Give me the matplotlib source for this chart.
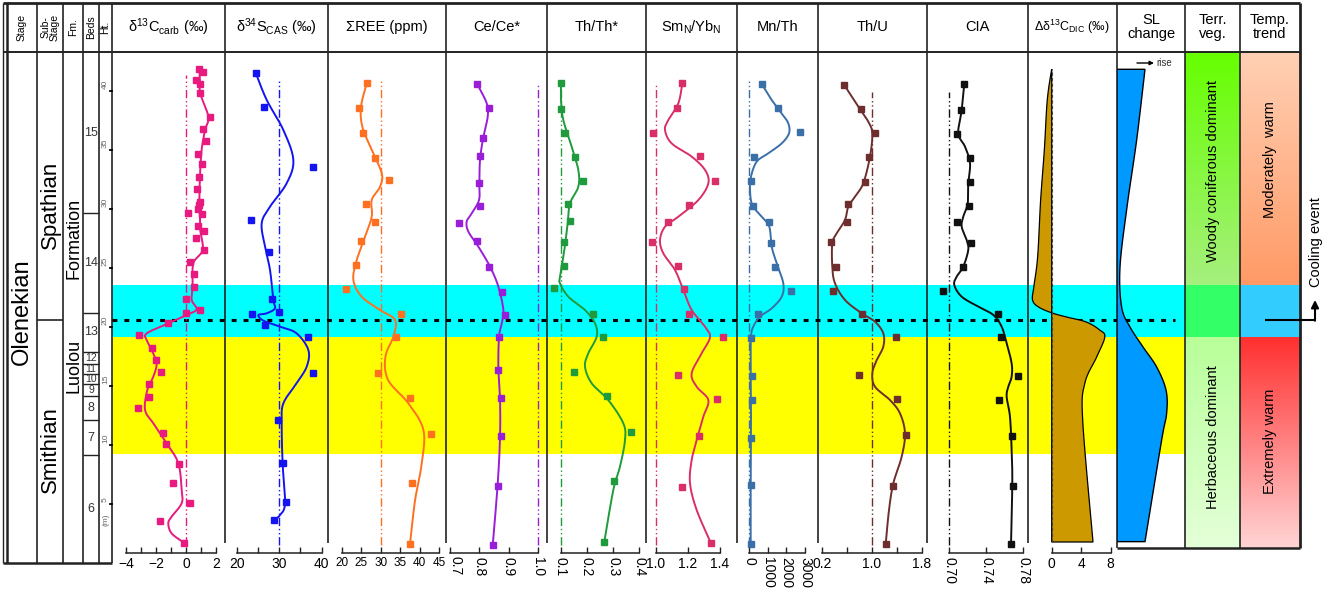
import numpy as np
import matplotlib
matplotlib.use("Agg")
import matplotlib.pyplot as plt
from matplotlib.colors import to_rgb
from matplotlib.patches import Rectangle

plt.rcParams["font.family"] = ["Liberation Sans", "DejaVu Sans"]
plt.rcParams["mathtext.fontset"] = "custom"
plt.rcParams["mathtext.rm"] = "Liberation Sans"
plt.rcParams["mathtext.it"] = "Liberation Sans:italic"
plt.rcParams["mathtext.bf"] = "Liberation Sans:bold"

# ---------------- data (heights in m) ----------------
cyan_band = (19.13, 23.56)
yellow_band = (9.24, 19.13)
event_h = 20.6

height_ticks = [5, 10, 15, 20, 25, 30, 35, 40]
beds = ["15", "14", "13", "12", "11", "10", "9", "8", "7", "6"]
bed_tops = [43.3, 29.66, 21.19, 17.88, 16.86, 16.02, 15.17, 14.15, 12.12, 9.15]

# d13C carb
c13_h = [41.9, 41.6, 40.9, 40.6, 39.8, 37.8, 36.8, 35.8, 34.7, 33.8, 32.7, 31.7, 30.6, 30.3,
         30.0, 29.7, 29.6, 28.6, 28.1, 27.5, 26.5, 25.5, 24.5, 23.4, 22.4, 21.4, 21.2, 20.3,
         19.3, 18.2, 17.2, 16.2, 15.2, 14.1, 13.1, 11.0, 10.1, 8.4, 6.8, 5.1, 3.6, 1.7]
c13_v = [0.89, 1.11, 0.67, 0.93, 0.95, 1.60, 1.16, 1.33, 0.82, 1.04, 0.89, 0.76, 0.93, 0.89,
         0.82, 0.16, 1.04, 0.82, 1.20, 0.67, 1.20, 0.27, 0.53, 0.53, 0.00, 0.95, 0.00, -1.18,
         -3.11, -2.29, -2.00, -1.69, -2.44, -2.44, -3.18, -1.51, -1.36, -0.44, -0.84, 0.27, -1.73, -0.13]
c13_ch = [41.92, 40.93, 39.8, 37.82, 36.69, 35.0, 32.74, 30.48, 29.35, 28.22, 26.53, 25.4, 23.42,
          22.29, 21.5, 21.02, 20.31, 19.46, 18.9, 18.05, 16.92, 15.79, 14.66, 12.97, 11.84, 10.14,
          8.45, 6.19, 5.06, 3.93, 3.36, 2.51, 1.72]
c13_cv = [0.89, 0.93, 0.95, 1.49, 1.27, 1.04, 0.93, 0.89, 0.93, 0.95, 1.11, 0.49, 0.44, 0.38,
          0.71, 0.04, -1.18, -2.62, -2.62, -2.29, -1.96, -2.18, -2.58, -2.73, -2.18, -1.29,
          -0.51, -0.29, -0.29, -0.96, -1.18, -0.96, -0.13]

# d34S CAS
s34_h = [41.55, 38.62, 33.59, 29.07, 26.38, 22.35, 21.3, 21.1, 20.17, 19.19, 16.13, 12.11, 8.45, 5.2, 3.65]
s34_v = [24.47, 26.42, 37.88, 23.29, 27.6, 28.38, 29.95, 23.53, 26.66, 36.86, 37.88, 29.65, 30.98, 31.6, 28.85]
s34_ch = [41.55, 39.24, 36.69, 34.15, 32.18, 30.2, 28.79, 26.81, 24.83, 22.29, 21.58, 21.16, 21.02,
          20.54, 20.03, 19.46, 18.05, 16.64, 15.23, 13.53, 11.84, 8.45, 5.06, 4.07, 3.65]
s34_cv = [24.47, 27.06, 30.98, 33.33, 31.76, 27.84, 25.88, 26.66, 27.84, 28.62, 29.0, 27.06, 25.1,
          26.27, 30.2, 34.1, 36.86, 36.47, 34.1, 30.98, 30.59, 30.8, 31.37, 30.2, 28.85]

# sum REE
ree_h = [40.65, 38.53, 36.41, 34.35, 32.46, 30.4, 28.93, 27.29, 25.25, 23.22, 21.07, 19.13, 16.1, 14.01, 10.93, 6.75, 1.6]
ree_v = [26.41, 24.52, 25.55, 28.54, 32.21, 26.23, 28.54, 24.95, 23.67, 21.1, 35.2, 33.85, 29.39, 37.51, 42.82, 38.1, 37.51]
ree_ch = [40.65, 38.67, 36.97, 35.0, 33.02, 31.89, 30.76, 29.35, 27.66, 25.68, 23.98, 22.57, 21.44,
          20.59, 19.19, 17.49, 15.51, 13.53, 11.27, 8.45, 5.34, 1.67]
ree_cv = [26.41, 24.95, 25.29, 27.69, 30.26, 29.82, 27.69, 27.69, 25.97, 23.85, 22.99, 25.12, 29.82,
          33.67, 33.24, 31.2, 31.88, 37.08, 40.93, 40.51, 38.8, 37.51]

# Ce/Ce*
ce_h = [40.56, 38.53, 36.05, 34.49, 32.18, 30.28, 28.79, 27.29, 25.11, 22.99, 21.02, 19.13, 16.38, 13.95, 10.8, 6.56, 1.53]
ce_v = [0.7929, 0.8337, 0.8133, 0.802, 0.7986, 0.8031, 0.7306, 0.7929, 0.8327, 0.8757, 0.8871,
        0.8667, 0.8643, 0.8724, 0.8724, 0.8622, 0.8452]
ce_ch = [40.56, 38.96, 37.82, 36.13, 34.15, 32.18, 30.76, 29.63, 28.93, 28.08, 26.81, 25.11, 23.42,
         21.44, 20.31, 19.19, 16.64, 13.81, 10.71, 6.75, 1.53]
ce_cv = [0.7929, 0.8247, 0.8281, 0.8133, 0.802, 0.7998, 0.7986, 0.7737, 0.7567, 0.7624, 0.7963,
         0.8361, 0.8643, 0.8814, 0.8757, 0.8667, 0.8643, 0.87, 0.87, 0.8622, 0.8452]

# Th/Th*
th_h = [40.71, 38.45, 36.41, 34.38, 32.4, 30.4, 28.98, 27.23, 25.2, 23.28, 21.07, 19.13, 16.16, 14.15, 11.13, 6.95, 1.78]
th_v = [0.1011, 0.1, 0.1164, 0.1546, 0.1839, 0.1267, 0.1355, 0.1126, 0.1139, 0.0756, 0.2244,
        0.2603, 0.1519, 0.2756, 0.3683, 0.3034, 0.2664]
th_ch = [40.71, 39.24, 37.54, 35.28, 33.31, 31.89, 30.48, 28.79, 26.53, 24.27, 23.7, 22.57, 21.44,
         20.31, 19.19, 17.77, 16.64, 15.23, 13.81, 11.84, 10.42, 8.17, 6.19, 1.78]
th_cv = [0.1011, 0.1011, 0.11, 0.142, 0.1672, 0.1672, 0.1355, 0.1267, 0.1139, 0.0973, 0.0973, 0.129,
         0.1927, 0.2309, 0.2374, 0.2053, 0.1927, 0.2183, 0.2817, 0.3389, 0.3454, 0.3263, 0.3008, 0.2664]

# SmN/YbN
sm_h = [40.65, 38.53, 36.47, 34.49, 32.4, 30.34, 28.93, 27.23, 25.17, 23.19, 21.1, 19.13, 15.93, 13.87, 10.8, 6.47, 1.67]
sm_v = [1.1646, 1.1292, 0.9833, 1.275, 1.3688, 1.2063, 1.0771, 0.9729, 1.1396, 1.175, 1.2083,
        1.4208, 1.1354, 1.3792, 1.2688, 1.1646, 1.3438]
sm_ch = [40.65, 38.96, 37.54, 36.69, 35.56, 34.44, 33.31, 32.18, 30.76, 29.35, 28.5, 27.37, 26.24,
         24.83, 23.14, 21.44, 20.03, 19.13, 17.77, 16.07, 14.94, 13.81, 12.4, 10.42, 8.73, 6.75, 4.49, 1.67]
sm_cv = [1.1646, 1.1396, 1.0771, 1.0563, 1.0979, 1.2229, 1.3063, 1.3271, 1.2646, 1.1396, 1.0563,
         1.025, 1.0458, 1.1188, 1.1708, 1.2229, 1.3063, 1.3375, 1.2854, 1.2229, 1.2542, 1.3271,
         1.2958, 1.2542, 1.2229, 1.2125, 1.2542, 1.3438]

# Mn/Th
mn_h = [40.59, 38.53, 36.55, 34.38, 32.38, 30.28, 28.87, 27.09, 25.11, 23.08, 21.07, 19.1, 15.85, 13.81, 10.63, 6.61, 1.6]
mn_v = [667, 1529, 2730, 269, 75, 215, 1077, 1152, 1384, 2229, 452, 75, 129, 129, 91, 91, 75]
mn_ch = [40.59, 39.24, 38.11, 37.26, 36.41, 35.56, 34.72, 34.01, 32.74, 31.61, 30.34, 29.35, 28.5,
         26.81, 25.4, 23.7, 22.57, 21.58, 20.88, 20.03, 19.13, 16.64, 12.4, 6.75, 1.6]
mn_cv = [667, 1206, 1745, 2100, 2138, 1745, 1023, 398, 91, 38, 162, 667, 1077, 1206, 1475, 1831,
         1745, 1206, 576, 215, 91, 75, 91, 75, 75]

# Th/U
tu_h = [40.5, 38.45, 36.47, 34.38, 32.32, 30.43, 28.93, 27.23, 25.11, 23.08, 21.1, 19.13, 15.93, 13.87, 10.85, 6.56, 1.6]
tu_v = [0.5616, 0.824, 1.0528, 0.9616, 0.8928, 0.6256, 0.6096, 0.3488, 0.424, 0.376, 0.84, 1.384,
        0.8016, 1.4096, 1.544, 1.3456, 1.224]
tu_ch = [40.5, 38.67, 37.4, 36.41, 34.44, 32.18, 31.05, 30.2, 29.07, 27.94, 27.09, 25.11, 23.7, 22.29,
         21.16, 20.45, 19.46, 18.33, 17.2, 16.07, 14.94, 13.81, 12.68, 10.99, 9.01, 6.75, 4.49, 1.6]
tu_cv = [0.5616, 0.7856, 0.9456, 1.0096, 0.9728, 0.8656, 0.7328, 0.6256, 0.5728, 0.44, 0.3696, 0.3696,
         0.4128, 0.5728, 0.84, 1.0528, 1.1856, 1.1856, 1.08, 1.0096, 1.0528, 1.2928, 1.4528, 1.5328,
         1.48, 1.3456, 1.2768, 1.224]

# CIA
cia_h = [40.59, 38.39, 36.36, 34.3, 32.27, 30.28, 28.87, 27.09, 25.11, 23.08, 21.07, 19.13, 15.88, 13.81, 10.76, 6.56, 1.6]
cia_v = [0.7162, 0.7126, 0.708, 0.7224, 0.7224, 0.7216, 0.7087, 0.7231, 0.7151, 0.6935, 0.753,
         0.7559, 0.7746, 0.7537, 0.7674, 0.7685, 0.7667]
cia_ch = [40.59, 38.39, 36.41, 35.28, 33.87, 32.18, 30.48, 29.35, 28.5, 27.37, 26.53, 25.11, 24.27,
          23.56, 22.57, 21.72, 21.02, 20.03, 18.62, 16.92, 15.79, 14.94, 14.1, 12.4, 9.58, 6.75, 1.6]
cia_cv = [0.7162, 0.7134, 0.7097, 0.717, 0.7224, 0.7205, 0.7199, 0.7151, 0.7134, 0.7188, 0.7205,
          0.7151, 0.708, 0.7054, 0.7134, 0.7314, 0.7476, 0.7566, 0.762, 0.7674, 0.7674, 0.7638,
          0.762, 0.7656, 0.7674, 0.7681, 0.7667]

# delta d13C DIC
dic_h = [41.86, 39.24, 35.0, 30.76, 26.0, 23.5, 22.3, 21.7, 21.2, 20.85, 20.42, 19.75, 19.15, 17.46, 15.25, 12.12, 1.78]
dic_v = [0.0, -0.6, -1.0, -1.5, -1.9, -2.4, -2.6, -1.8, 0.0, 2.0, 4.7, 6.5, 7.2, 6.1, 4.5, 4.2, 5.6]

# relative sea level
sl_h = [41.84, 35.85, 30.17, 25.08, 21.69, 20.0, 18.31, 16.61, 14.66, 12.71, 10.42, 1.81]
sl_v = [0.56, 0.393, 0.2, 0.06, 0.093, 0.26, 0.52, 0.793, 0.98, 0.993, 0.893, 0.56]

# ---------------- layout ----------------
W, H = 1333, 591
Y0, PPM = 563.0, 11.8          # pixel row of 0 m, pixels per metre
TOP, HDR, AXB = 3, 52, 553


def yp(h):
    return Y0 - PPM * np.asarray(h, float)


def hm(y):
    return (Y0 - y) / PPM


def spline(h, v, n=16):
    # Catmull-Rom curve through the nodes
    p = np.column_stack([v, h]).astype(float)
    p = np.vstack([p[0], p, p[-1]])
    t = np.linspace(0, 1, n, endpoint=False)[:, None]
    segs = []
    for i in range(1, len(p) - 2):
        p0, p1, p2, p3 = p[i - 1], p[i], p[i + 1], p[i + 2]
        segs.append(0.5 * (2 * p1 + (p2 - p0) * t + (2 * p0 - 5 * p1 + 4 * p2 - p3) * t ** 2
                           + (-p0 + 3 * p1 - 3 * p2 + p3) * t ** 3))
    segs.append(p[-2][None])
    s = np.vstack(segs)
    return s[:, 0], s[:, 1]


panels = [
    dict(x0=112, x1=225, anchor=((-4, 126), (2, 216)), color="#e8197f", h=c13_h, v=c13_v, ch=c13_ch, cv=c13_cv,
         ticks=[-4, -2, 0, 2], labels=["\u22124", "\u22122", "0", "2"], minor=[-3, -1, 1], rot=0, ref=0, ref_top=41.35,
         fs=10, title="\u03b4$^{13}$C$_{\\rm carb}$ (\u2030)"),
    dict(x0=225, x1=328, anchor=((20, 236.7), (40, 321.7)), color="#1414f0", h=s34_h, v=s34_v, ch=s34_ch, cv=s34_cv,
         ticks=[20, 25, 30, 35, 40], labels=["20", "", "30", "", "40"], minor=[], rot=0, ref=30, ref_top=40.9,
         fs=10, title="\u03b4$^{34}$S$_{\\rm CAS}$ (\u2030)"),
    dict(x0=328, x1=446, anchor=((20, 341.7), (45, 439.3)), color="#ff7020", h=ree_h, v=ree_v, ch=ree_ch, cv=ree_cv,
         ticks=[20, 25, 30, 35, 40, 45], labels=["20", "25", "30", "35", "40", "45"], minor=[], rot=0, ref=30,
         ref_top=40.9, fs=8.5, title="\u03a3REE (ppm)"),
    dict(x0=446, x1=547, anchor=((0.7, 450), (1.0, 538.3)), color="#9a1ed8", h=ce_h, v=ce_v, ch=ce_ch, cv=ce_cv,
         ticks=[0.7, 0.8, 0.9, 1.0], labels=["", "0.8", "0.9", "1.0"], minor=[], rot=270, ref=1.0,
         ref_top=40.65, fs=10, title="Ce/Ce*"),
    dict(x0=547, x1=646, anchor=((0.1, 560.7), (0.4, 639.3)), color="#1f9a3c", h=th_h, v=th_v, ch=th_ch, cv=th_cv,
         ticks=[0.1, 0.2, 0.3, 0.4], labels=["0.1", "0.2", "0.3", "0.4"], minor=[], rot=270, ref=0.1,
         ref_top=40.65, fs=10, title="Th/Th*"),
    dict(x0=646, x1=737, anchor=((1.0, 656), (1.4, 720)), color="#d92e68", h=sm_h, v=sm_v, ch=sm_ch, cv=sm_cv,
         ticks=[1.0, 1.2, 1.4], labels=["1.0", "1.2", "1.4"], minor=[], rot=0, ref=1.0, ref_top=40.65,
         fs=10, title="Sm$_{\\rm N}$/Yb$_{\\rm N}$"),
    dict(x0=737, x1=818, anchor=((0, 749.3), (3000, 805)), color="#3a6fa8", h=mn_h, v=mn_v, ch=mn_ch, cv=mn_cv,
         ticks=[0, 1000, 2000, 3000], labels=["0", "1000", "2000", "3000"], minor=[], rot=270, ref=0,
         ref_top=40.9, fs=10, title="Mn/Th"),
    dict(x0=818, x1=927, anchor=((0.2, 821.7), (1.8, 921.7)), color="#6e2e2e", h=tu_h, v=tu_v, ch=tu_ch, cv=tu_cv,
         ticks=[0.2, 0.6, 1.0, 1.4, 1.8], labels=["0.2", "", "1.0", "", "1.8"], minor=[], rot=0, ref=1.0,
         ref_top=39.94, fs=10, title="Th/U"),
    dict(x0=927, x1=1028, anchor=((0.70, 949.3), (0.78, 1023.3)), color="#111111", h=cia_h, v=cia_v, ch=cia_ch,
         cv=cia_cv, ticks=[0.70, 0.74, 0.78], labels=["0.70", "0.74", "0.78"], minor=[], rot=270, ref=0.70,
         ref_top=39.94, fs=10, title="CIA"),
]

fig = plt.figure(figsize=(W / 100, H / 100), dpi=100)
bg = fig.add_axes([0, 0, 1, 1])
bg.axis("off")


def vgrad(x0, x1, y0, y1, c0, c1):
    t = np.linspace(0, 1, 100)[:, None, None]
    img = np.array(to_rgb(c0)) * (1 - t) + np.array(to_rgb(c1)) * t
    bg.imshow(img, extent=(x0, x1, y1, y0), aspect="auto", interpolation="bilinear", zorder=1)


def rect(x0, x1, y0, y1, c):
    bg.add_patch(Rectangle((x0, y0), x1 - x0, y1 - y0, fc=c, lw=0, zorder=1))


def vline(x, y0, y1, lw=1.2):
    bg.plot([x, x], [y0, y1], color="#222222", lw=lw, zorder=3, solid_capstyle="butt")


def hline(y, x0, x1, lw=1.2):
    bg.plot([x0, x1], [y, y], color="#222222", lw=lw, zorder=3, solid_capstyle="butt")


yc0, yc1 = yp(cyan_band[1]), yp(cyan_band[0])
yy0, yy1 = yp(yellow_band[1]), yp(yellow_band[0])
rect(112, 1185, yc0, yc1, "#00ffff")
rect(112, 1185, yy0, yy1, "#ffff00")

# vegetation and temperature columns
vgrad(1185, 1240, HDR, yc0, "#66ff00", "#a6f07e")
rect(1185, 1240, yc0, yc1, "#33ff66")
vgrad(1185, 1240, yc1, 548, "#b8ff99", "#e4ffd8")
vgrad(1240, 1300, HDR, yc0, "#ffd0b4", "#ff9a66")
rect(1240, 1300, yc0, yc1, "#33ccff")
vgrad(1240, 1300, yc1, 548, "#ff3030", "#ffd4d4")

# frame
hline(TOP, 3, 1300, 2)
hline(HDR, 3, 1300, 1.4)
vline(3, TOP, 563, 1)
vline(7, TOP, 563, 1.8)
for x in [37, 63, 83, 99, 112]:
    vline(x, TOP, 563)
hline(563, 3, 112, 1.8)
for p in panels:
    vline(p["x1"], TOP, 543)
for x in [1117, 1185, 1240]:
    vline(x, TOP, 548)
vline(1300, TOP, 548, 2)
hline(548, 1117, 1300, 1.8)

# event line
bg.plot([112, 1175], [yp(event_h)] * 2, color="k", lw=2.2, ls=(0, (1.6, 2.3)), zorder=4)

# left stratigraphy
hline(yp(event_h), 37, 63)
for b in bed_tops[1:]:
    hline(yp(b), 83, 99, 1)
bed_bases = bed_tops[1:] + [0.0]
for name, t, b in zip(beds, bed_tops, bed_bases):
    fs = 9 if name in ("15", "14", "13", "8", "7", "6") else 7.5
    bg.text(91, (yp(t) + yp(b)) / 2, name, ha="center", va="center", fontsize=fs, color="#333", zorder=5)
for h in height_ticks:
    bg.plot([109.5, 112], [yp(h)] * 2, color="k", lw=1.3, zorder=5)
    bg.text(105.5, yp(h) - 2, str(h), rotation=90, ha="center", va="bottom", fontsize=6, color="#666", zorder=5)
bg.text(105.5, 520, "(m)", rotation=90, ha="center", va="center", fontsize=6, color="#666")

bg.text(22, 312, "Olenekian", rotation=90, ha="center", va="center", fontsize=17)
bg.text(50, 205, "Spathian", rotation=90, ha="center", va="center", fontsize=16)
bg.text(50, 450, "Smithian", rotation=90, ha="center", va="center", fontsize=16)
bg.text(74, 238, "Formation", rotation=90, ha="center", va="center", fontsize=13)
bg.text(74, 366, "Luolou", rotation=90, ha="center", va="center", fontsize=13)

for x, s in [(22, "Stage"), (50, "Sub-\nStage"), (73, "Fm."), (91, "Beds"), (105.5, "Ht.")]:
    bg.text(x, 27, s, rotation=90, ha="center", va="center", fontsize=7.5, linespacing=0.95)

# right column labels
bg.text(1151, 27, "SL\nchange", ha="center", va="center", fontsize=10.5, linespacing=0.95)
bg.text(1212.5, 27, "Terr.\nveg.", ha="center", va="center", fontsize=10.5, linespacing=0.95)
bg.text(1270, 27, "Temp.\ntrend", ha="center", va="center", fontsize=10.5, linespacing=0.95)
bg.text(1213, 171, "Woody coniferous dominant", rotation=90, ha="center", va="center", fontsize=10.5, zorder=5)
bg.text(1213, 437, "Herbaceous dominant", rotation=90, ha="center", va="center", fontsize=10.5, zorder=5)
bg.text(1270, 160, "Moderately  warm", rotation=90, ha="center", va="center", fontsize=10.5, zorder=5)
bg.text(1270, 441, "Extremely warm", rotation=90, ha="center", va="center", fontsize=10.5, zorder=5)

# cooling event arrow
ye = float(yp(event_h))
bg.plot([1265, 1315], [ye, ye], color="k", lw=1.5, zorder=6, solid_capstyle="butt")
bg.annotate("", xy=(1315, 300), xytext=(1315, ye + 0.8),
            arrowprops=dict(arrowstyle="-|>", color="k", lw=1.5, mutation_scale=11, shrinkA=0, shrinkB=0),
            zorder=6, annotation_clip=False)
bg.text(1316, 242, "Cooling event", rotation=90, ha="center", va="center", fontsize=10.5)

# sea-level "rise" key
bg.annotate("", xy=(1154, 63), xytext=(1137, 63),
            arrowprops=dict(arrowstyle="-|>", color="k", lw=1, mutation_scale=6, shrinkA=0, shrinkB=0))
bg.text(1156, 63, "rise", ha="left", va="center", fontsize=7, color="#333")

# first Ce/Ce* tick label, nudged clear of the REE "45"
bg.text(455, 556, "0.7", rotation=270, ha="center", va="top", fontsize=10)

bg.set_xlim(0, W)
bg.set_ylim(H, 0)


def data_axes(x0, x1, anchor):
    ax = fig.add_axes([x0 / W, (H - AXB) / H, (x1 - x0) / W, (AXB - HDR) / H])
    ax.set_facecolor("none")
    (a, pa), (b, pb) = anchor
    s = (pb - pa) / (b - a)
    ax.set_xlim(a + (x0 - pa) / s, a + (x1 - pa) / s)
    ax.set_ylim(hm(AXB), hm(HDR))
    for side in ["left", "right", "top"]:
        ax.spines[side].set_visible(False)
    ax.set_yticks([])
    return ax


def bottom_axis(ax, ticks, labels, minor=(), rot=0, fs=10):
    ax.set_xticks(ticks)
    ax.set_xticklabels(labels, rotation=rot, fontsize=fs)
    if len(minor):
        ax.set_xticks(minor, minor=True)
    ax.tick_params(axis="x", which="both", direction="in", length=4, width=1, pad=3, color="#222")
    ax.spines["bottom"].set_bounds(ticks[0], ticks[-1])
    ax.spines["bottom"].set_linewidth(1.1)
    ax.spines["bottom"].set_color("#222")


for p in panels:
    ax = data_axes(p["x0"], p["x1"], p["anchor"])
    c = p["color"]
    ax.plot([p["ref"]] * 2, [hm(545), p["ref_top"]], color=c, lw=1, ls=(0, (6, 2, 1, 2, 1, 2)))
    cv, ch = spline(p["ch"], p["cv"])
    ax.plot(cv, ch, color=c, lw=1.4, zorder=4)
    ax.plot(p["v"], p["h"], "s", ms=4.2, color=c, mec=c, zorder=5, clip_on=False)
    bottom_axis(ax, p["ticks"], p["labels"], p["minor"], p["rot"], p["fs"])
    bg.text((p["x0"] + p["x1"]) / 2, 27, p["title"], ha="center", va="center", fontsize=10.5)

# delta d13C DIC
ax = data_axes(1028, 1117, ((0, 1051.7), (8, 1110.7)))
dv, dh = spline(dic_h, dic_v)
ax.fill(np.r_[0, dv, 0], np.r_[dh[0], dh, dh[-1]], fc="#cc9900", ec="k", lw=0.9, zorder=3)
ax.plot([0, 0], [dh[-1], dh[0]], color="#444", lw=0.8, ls=(0, (3, 2)), zorder=4)
bottom_axis(ax, [0, 4, 8], ["0", "4", "8"])
bg.text(1072, 27, "\u0394\u03b4$^{13}$C$_{\\rm DIC}$ (\u2030)", ha="center", va="center", fontsize=9)

# sea level
ax = data_axes(1117, 1185, ((0, 1117), (1, 1167)))
sv, sh = spline(sl_h, sl_v)
ax.fill(np.r_[0, sv, 0], np.r_[sh[0], sh, sh[-1]], fc="#0099ff", ec="k", lw=1, zorder=3)
ax.spines["bottom"].set_visible(False)
ax.set_xticks([])

fig.savefig("out.png", dpi=100)
